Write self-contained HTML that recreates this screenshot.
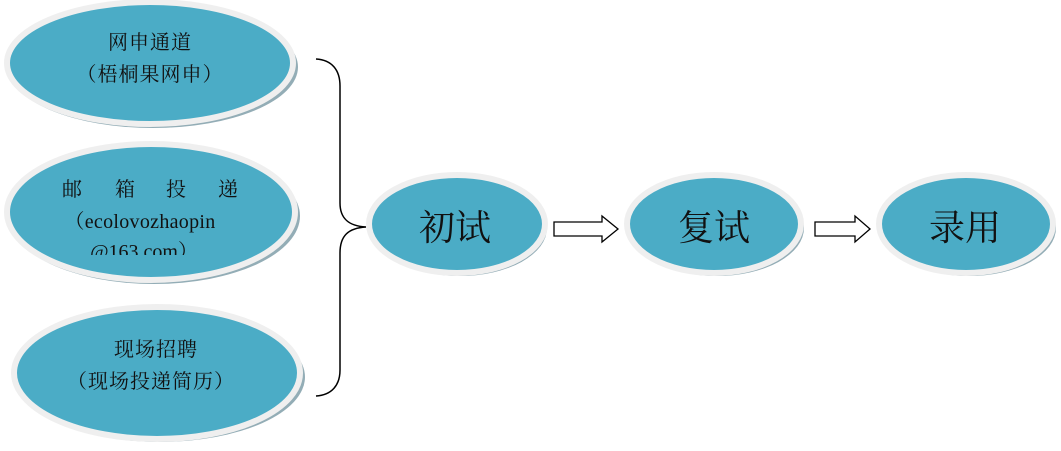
<!DOCTYPE html>
<html>
<head>
<meta charset="utf-8">
<style>
  html,body{margin:0;padding:0;background:#fff;}
  body{width:1061px;height:451px;overflow:hidden;}
  svg{display:block;}
  text{font-family:"Liberation Serif","Noto Serif CJK SC",serif;fill:#111;}
</style>
</head>
<body>
<svg width="1061" height="451" viewBox="0 0 1061 451" xmlns="http://www.w3.org/2000/svg">
  <defs>
    <clipPath id="c2"><rect x="0" y="140" width="320" height="115"/></clipPath>
  </defs>

  <!-- Ellipse 1 -->
  <ellipse cx="153" cy="67" rx="145" ry="61" fill="#93adb6"/>
  <ellipse cx="150" cy="63" rx="143" ry="61" fill="#4bacc6" stroke="#efefef" stroke-width="6"/>
  <text x="150" y="43" font-size="20" text-anchor="middle" dominant-baseline="central" letter-spacing="1">网申通道</text>
  <text x="150" y="75" font-size="20" text-anchor="middle" dominant-baseline="central" letter-spacing="1">（梧桐果网申）</text>

  <!-- Ellipse 2 -->
  <ellipse cx="154" cy="216" rx="146" ry="68" fill="#93adb6"/>
  <ellipse cx="151" cy="212" rx="144" ry="68" fill="#4bacc6" stroke="#efefef" stroke-width="6"/>
  <text x="72" y="190" dominant-baseline="central" text-anchor="middle" font-size="20">邮</text>
  <text x="125" y="190" dominant-baseline="central" text-anchor="middle" font-size="20">箱</text>
  <text x="176" y="190" dominant-baseline="central" text-anchor="middle" font-size="20">投</text>
  <text x="228" y="190" dominant-baseline="central" text-anchor="middle" font-size="20">递</text>
  <text x="140" y="222" font-size="20" text-anchor="middle" dominant-baseline="central" letter-spacing="0.3">（ecolovozhaopin</text>
  <g clip-path="url(#c2)">
    <text x="144" y="252" font-size="20" text-anchor="middle" dominant-baseline="central">@163.com）</text>
  </g>

  <!-- Ellipse 3 -->
  <ellipse cx="160" cy="377" rx="145" ry="65" fill="#93adb6"/>
  <ellipse cx="157" cy="373" rx="143" ry="66" fill="#4bacc6" stroke="#efefef" stroke-width="6"/>
  <text x="156" y="350" font-size="20" text-anchor="middle" dominant-baseline="central" letter-spacing="1">现场招聘</text>
  <text x="151" y="382" font-size="20" text-anchor="middle" dominant-baseline="central" letter-spacing="1">（现场投递简历）</text>

  <!-- Brace -->
  <path d="M316,59 C332,60 340,70 340,86 L340,203 C340,218 348,226 366,227 C348,228 340,236 340,253 L340,370 C340,385 332,395 316,396" fill="none" stroke="#000" stroke-width="1.5"/>

  <!-- 初试 -->
  <ellipse cx="460" cy="228" rx="87" ry="48" fill="#93adb6"/>
  <ellipse cx="457" cy="224" rx="88" ry="49" fill="#4bacc6" stroke="#efefef" stroke-width="6"/>
  <text x="455" y="228" font-size="36" text-anchor="middle" dominant-baseline="central">初试</text>

  <!-- Arrow 1 -->
  <polygon points="554,222 602,222 602,216 618,229 602,242 602,236 554,236" fill="#fff" stroke="#000" stroke-width="1.3"/>

  <!-- 复试 -->
  <ellipse cx="717" cy="228" rx="87" ry="48" fill="#93adb6"/>
  <ellipse cx="714" cy="224" rx="87" ry="49" fill="#4bacc6" stroke="#efefef" stroke-width="6"/>
  <text x="714" y="228" font-size="36" text-anchor="middle" dominant-baseline="central">复试</text>

  <!-- Arrow 2 -->
  <polygon points="815,222 855,222 855,216 870,229 855,242 855,236 815,236" fill="#fff" stroke="#000" stroke-width="1.3"/>

  <!-- 录用 -->
  <ellipse cx="969" cy="228" rx="87" ry="48" fill="#93adb6"/>
  <ellipse cx="966" cy="224" rx="87" ry="49" fill="#4bacc6" stroke="#efefef" stroke-width="6"/>
  <text x="965" y="228" font-size="36" text-anchor="middle" dominant-baseline="central">录用</text>
</svg>
</body>
</html>
